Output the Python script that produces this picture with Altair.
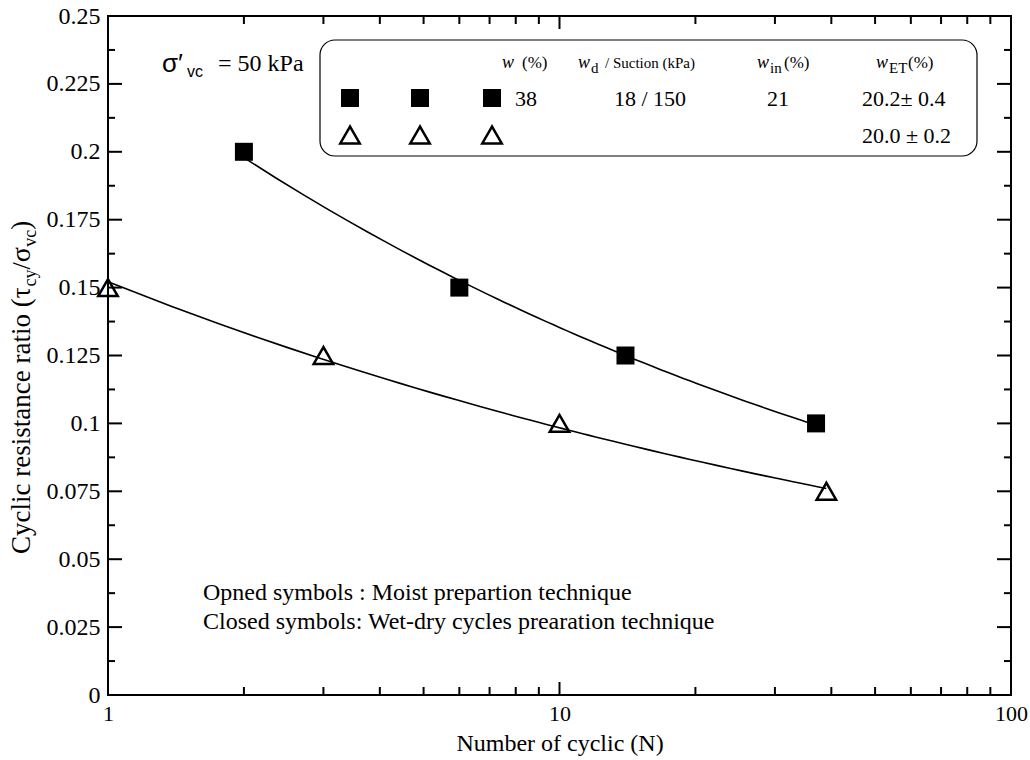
import altair as alt
import pandas as pd

# Cyclic resistance ratio against number of cycles
closed_N = [2, 6, 14, 37]
closed_crr = [0.200, 0.150, 0.125, 0.100]
open_N = [1, 3, 10, 39]
open_crr = [0.150, 0.125, 0.100, 0.075]

# axis ticks
y_major = [0, 0.025, 0.05, 0.075, 0.1, 0.125, 0.15, 0.175, 0.2, 0.225, 0.25]
y_minor = [0.0125, 0.0375, 0.0625, 0.0875, 0.1125, 0.1375, 0.1625, 0.1875, 0.2125, 0.2375]
x_labels = [1, 10, 100]
x_major = [10]
x_minor = [2, 3, 4, 5, 6, 7, 8, 9, 20, 30, 40, 50, 60, 70, 80, 90]

# legend table entries
w_closed = "38"
wd_suction = "18 / 150"
w_in = "21"
w_et_closed = "20.2\u00b1 0.4"
w_et_open = "20.0 \u00b1 0.2"

W, H = 903, 679
SERIF = "Liberation Serif"
SANS = "Liberation Sans"

# approximate advance widths (per 1000 em) for laying out sub/superscript runs
SERIF_W = {" ": 250, "(": 333, ")": 333, "/": 278, "%": 833, ".": 250, ":": 278,
           "-": 333, "=": 564, "\u00b1": 564, "a": 444, "b": 500, "c": 444, "d": 500,
           "e": 444, "f": 333, "h": 500, "i": 278, "k": 500, "l": 278, "m": 778,
           "n": 500, "o": 500, "p": 500, "q": 500, "r": 333, "s": 389, "t": 278,
           "u": 500, "v": 500, "w": 722, "y": 500, "C": 667, "E": 611, "P": 556,
           "S": 556, "T": 611, "\u03c4": 440, "\u03c3": 550}


def text_width(s, size):
    return sum(SERIF_W.get(ch, 500) for ch in s) * size / 1000.0


one = pd.DataFrame({"k": [0]})


def label(text, x, y, size, font=SERIF, style="normal", align="left", angle=0):
    return alt.Chart(one).mark_text(
        text=text, font=font, fontSize=size, fontStyle=style, align=align,
        baseline="alphabetic", angle=angle, color="black"
    ).encode(x=alt.value(x), y=alt.value(y))


def run(pieces, x, y, angle=0):
    """Lay out (text, size, shift) pieces one after another; rotated runs read upward."""
    layers, pos = [], 0.0
    for text, size, shift in pieces:
        if angle == 0:
            layers.append(label(text, x + pos, y + shift, size))
        else:
            layers.append(label(text, x + shift, y - pos, size, angle=angle))
        pos += text_width(text, size)
    return layers


xscale = alt.Scale(type="log", domain=[1, 100], nice=False)
yscale = alt.Scale(domain=[0, 0.25], nice=False, zero=False)

xaxis = alt.Axis(values=x_labels, format=".3~g", title="Number of cyclic (N)",
                 labelPadding=8, titlePadding=7)
yaxis = alt.Axis(values=y_major, format=".3~g", title="", labelPadding=8)

data = pd.DataFrame({
    "N": closed_N + open_N,
    "CRR": closed_crr + open_crr,
    "series": ["closed"] * len(closed_N) + ["open"] * len(open_N),
})

X = alt.X("N:Q", scale=xscale, axis=xaxis)
Y = alt.Y("CRR:Q", scale=yscale, axis=yaxis)

# power-law trend through each set of tests
fits = alt.Chart(data).transform_regression(
    "N", "CRR", method="pow", groupby=["series"]
).mark_line(color="black", strokeWidth=1.6).encode(x=X, y=Y, detail="series:N")

squares = alt.Chart(data).transform_filter("datum.series == 'closed'").mark_point(
    shape="square", filled=True, size=324, color="black", opacity=1
).encode(x=X, y=Y)

triangles = alt.Chart(data).transform_filter("datum.series == 'open'").mark_point(
    shape="triangle-up", filled=False, size=380, stroke="black", strokeWidth=2.5, opacity=1
).encode(x=X, y=Y)


def y_ticks(values, length):
    d = pd.DataFrame({"CRR": values})
    base = alt.Chart(d).mark_rule(color="black", strokeWidth=2)
    return [base.encode(y=Y, x=alt.value(0), x2=alt.value(length)),
            base.encode(y=Y, x=alt.value(W), x2=alt.value(W - length))]


def x_ticks(values, length):
    d = pd.DataFrame({"N": values})
    base = alt.Chart(d).mark_rule(color="black", strokeWidth=2)
    return [base.encode(x=X, y=alt.value(H), y2=alt.value(H - length)),
            base.encode(x=X, y=alt.value(0), y2=alt.value(length))]


ticks = y_ticks(y_major, 14) + y_ticks(y_minor, 7) + x_ticks(x_major, 13) + x_ticks(x_minor, 8)

# legend table
box = alt.Chart(one).mark_rect(
    fill="white", stroke="black", strokeWidth=1.2, cornerRadius=15
).encode(x=alt.value(212), x2=alt.value(869), y=alt.value(24), y2=alt.value(140))

legend_marks = []
for px in (242, 312, 384):
    legend_marks.append(alt.Chart(one).mark_point(
        shape="square", filled=True, size=324, color="black", opacity=1
    ).encode(x=alt.value(px), y=alt.value(82)))
    legend_marks.append(alt.Chart(one).mark_point(
        shape="triangle-up", filled=False, size=380, stroke="black", strokeWidth=2.5, opacity=1
    ).encode(x=alt.value(px), y=alt.value(119)))

header = [
    label("w", 394, 52, 18, style="italic"), label("(%)", 414, 52, 17),
    label("w", 470, 52, 18, style="italic"), label("d", 483, 57, 15),
    label("/ Suction (kPa)", 497, 52, 15),
    label("w", 649, 52, 18, style="italic"), label("in", 662, 57, 15),
    label("(%)", 676, 52, 17),
    label("w", 768, 52, 18, style="italic"), label("ET", 781, 57, 15),
    label("(%)", 800, 52, 17),
]
rows = [
    label(w_closed, 407, 90, 22),
    label(wd_suction, 542, 90, 22, align="center"),
    label(w_in, 670, 90, 22, align="center"),
    label(w_et_closed, 754, 90, 22),
    label(w_et_open, 754, 127, 22),
]

stress = [
    label("\u03c3\u2032", 54, 56, 26, font=SANS),
    label("vc", 79, 61, 16, font=SANS),
    label("= 50 kPa", 110, 55, 24),
]

notes = [
    label("Opned symbols : Moist prepartion technique", 95, 584, 24),
    label("Closed symbols: Wet-dry cycles prearation technique", 95, 613, 24),
]

# y-axis title with subscripts, reading bottom to top
ytitle = run([
    ("Cyclic resistance ratio (\u03c4", 27, 0),
    ("cy", 18, 6),
    ("/", 26, 0),
    ("\u03c3", 28, 0),
    ("vc", 18, 6),
    (")", 27, 0),
], -78, 538, angle=270)

chart = alt.layer(
    fits, squares, triangles, *ticks, box, *legend_marks, *header, *rows,
    *stress, *notes, *ytitle
).properties(
    width=W, height=H, autosize="none", background="white",
    padding={"left": 108, "top": 16, "right": 19, "bottom": 65},
).configure_view(
    stroke="black", strokeWidth=2
).configure_axis(
    ticks=False, tickSize=0, domain=False, grid=False, labelFlush=False,
    labelFont=SERIF, labelColor="black",
    titleFont=SERIF, titleFontSize=24, titleFontWeight="normal", titleColor="black",
).configure_axisX(
    labelFontSize=22
).configure_axisY(
    labelFontSize=24
)

chart.save("out.html", embed_options={"renderer": "svg", "actions": False})
